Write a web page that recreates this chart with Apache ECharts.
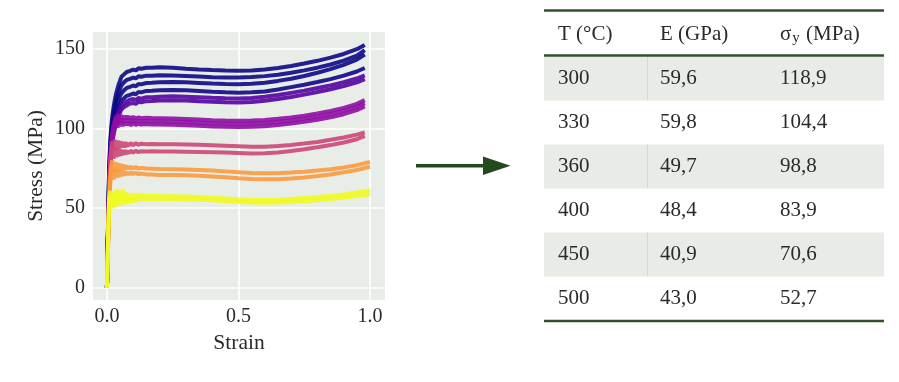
<!DOCTYPE html>
<html><head><meta charset="utf-8">
<script src="https://cdn.jsdelivr.net/npm/echarts@6/dist/echarts.min.js"></script>
<style>html,body{margin:0;padding:0;background:#fff}#c{width:899px;height:382px}</style>
</head><body><div id="c"></div>
<script>
// ---- data ----
const strain     = [0,0.004,0.008,0.012,0.016,0.02,0.025,0.03,0.035,0.04,0.045,0.05,0.055,0.06,0.065,0.07,0.075,0.08,0.085,0.09,0.1,0.11,0.12,0.13,0.15,0.17,0.2,0.25,0.3,0.35,0.4,0.45,0.5,0.55,0.6,0.65,0.7,0.75,0.8,0.85,0.9,0.95,0.98];
const strainLong = [0,0.004,0.008,0.012,0.016,0.02,0.025,0.03,0.035,0.04,0.045,0.05,0.055,0.06,0.065,0.07,0.075,0.08,0.085,0.09,0.1,0.11,0.12,0.13,0.15,0.17,0.2,0.25,0.3,0.35,0.4,0.45,0.5,0.55,0.6,0.65,0.7,0.75,0.8,0.85,0.9,0.95,1.0];

const s300a = [0,38,72,90,100,107,113,118,122,125,128,130,132.5,131.5,134,133,135.5,134.5,136,135.5,137,136.5,137.8,137.5,138.2,138.2,138.4, 138.2,137.6,137.1,136.7,136.4,136.3,136.5,137,138,139.3,140.8,142.5,144.5,146.8,149.8,152.5];
const s300b = [0,37,70,88,97,104,109,114,117.5,120.5,123,125,127,126.5,129,128,130.5,129.5,131,130.5,132,131.5,132.8,132.5,133.2,133.2,133.5, 133.3,133,132.6,132.2,132,132,132.3,132.9,133.8,135,136.5,138.2,140.2,142.6,145.8,149.2];
const s300c = [0,36,68,85,94,100,105,109,113,116,118.5,120.5,122,121.5,124,123,125.5,124.5,126,125.5,127,126.5,128,127.7,128.6,128.7,129, 129.2,129,128.6,128.2,127.9,127.8,128.1,128.8,129.9,131.3,133,135,137.3,140,143.3,146.5];
const s300d = [0,35,66,82,91,97,102,105.5,109,111.5,114,115.5,117.5,117,119,118.5,120.5,119.5,121,120.5,122,121.5,123,122.7,123.6,123.7,124, 124.2,124,123.6,123.1,122.7,122.5,122.7,123.3,124.5,126,127.5,129.2,131,133.2,135.8,138];
const s330a = [0,34,63,79,88,94,99,103,106,109,111,112.5,114.5,113.5,116,115,117,116,118,117,118.5,118,119.2,118.8,119.6,119.7,120, 120.2,120,119.7,119.3,119,118.9,119.2,119.9,121,122.4,123.8,125.4,127.1,129.1,131.4,133.4];
const s330b = [0,33,61,76,85,91,96,100,103,106,108,110,112,111,113.5,112.5,114.5,113.5,115.5,114.5,116,115.5,116.8,116.4,117.2,117.3,117.6, 117.8,117.6,117.2,116.8,116.5,116.4,116.7,117.4,118.5,119.8,121.3,122.9,124.7,126.7,129,131];
const s360a = [0,33,62,80,90,97,102,105,108,104.5,109,105.5,108.5,105.5,108,106,108,106,107.5,106,107.3,106.3,107,106.5,106.8,106.6,106.5, 106.3,106,105.6,105.2,105,104.9,105,105.4,106.1,107,108.1,109.5,111,113,115.5,117.8];
const s360b = [0,32,60,77,87,94,99,103,106,102.5,107,103.5,106.5,103.5,106,104,106,104,105.5,104,105.3,104.3,105,104.5,104.8,104.6,104.5, 104.3,104.1,103.7,103.3,103.1,103,103.1,103.5,104.2,105.1,106.2,107.6,109.1,111.1,113.6,115.9];
const s360c = [0,31,58,75,85,92,97,101,104,100.5,105,101.5,104.5,101.5,104,102,104,102,103.5,102,103.3,102.3,103,102.5,102.8,102.6,102.5, 102.3,102.1,101.7,101.3,101.1,101,101.1,101.5,102.2,103.1,104.2,105.5,107,109,111.5,113.8];
const s400a = [0,30,58,78,87,92,86,93,87,92.5,87.5,92,88,91.5,88,91.5,88.5,91,89,91,89.5,90.8,89.8,90.5,90.2,90.3,90.2, 90.1,90,89.8,89.5,89.2,88.9,88.6,88.6,89,89.7,90.6,91.6,92.9,94.4,96.2,97.6];
const s400b = [0,28,55,74,82,88,81,88,82,87.5,82.5,87,83,86.5,83.5,86.5,84,86,84.5,86,85,86,85.2,85.8,85.6,85.7,85.6, 85.5,85.4,85.3,85.1,84.9,84.7,84.4,84.5,85,85.9,87,88.2,89.6,91.2,93.3,95.4];
const s450a = [0,26,50,68,76,80,72,79,73,78.5,73,78,74,77.5,74,77,74.5,76.5,74.5,76,75,75.8,74.8,75.3,74.9,74.8,74.6, 74.5,74.3,74,73.6,73.1,72.6,72.1,71.9,72,72.4,72.9,73.6,74.5,75.6,77,79];
const s450b = [0,24,47,64,72,76,68,75,69,74.5,69.5,74,70,73.5,70.5,73,71,72.5,71,72.5,71.5,72.2,71.3,71.8,71.2,71.1,70.9, 70.8,70.6,70.3,69.9,69.4,68.8,68.3,68.1,68.2,68.7,69.3,70.2,71.2,72.5,74,76];
const s500a = [0,30,56,61,54,60,52,61,53,62,54,61,53,62,55,60,54.5,59.5,55.5,59,56,59,56.5,58.5,57.5,57.8,57.6, 57.5,57.3,57,56.6,56.1,55.6,55.2,55.1,55.3,55.8,56.4,57,57.7,58.6,59.8,61.3];
const s500b = [0,28,53,58,51,57,50,58,51,59,52,58,51.5,59,53,57.5,52.5,57,53.5,56.5,54,56.5,54.5,56.3,55.6,55.9,55.8, 55.7,55.6,55.3,54.9,54.4,53.9,53.5,53.4,53.5,53.9,54.4,55,55.7,56.6,57.6,58.8];

const xTicks = [0, 0.5, 1.0];
const yTicks = [0, 50, 100, 150];

const tableHeaderT = 'T (°C)';
const tableHeaderE = 'E (GPa)';
const tableT  = ['300', '330', '360', '400', '450', '500'];
const tableE  = ['59,6', '59,8', '49,7', '48,4', '40,9', '43,0'];
const tableSy = ['118,9', '104,4', '98,8', '83,9', '70,6', '52,7'];

// ---- styling ----
const FONT = 'Liberation Serif';
const TXT = '#2a2a2a';
const curves = [
  [s300a, strain, '#0d0887'], [s300b, strain, '#0d0887'], [s300c, strain, '#0d0887'], [s300d, strain, '#0d0887'],
  [s330a, strain, '#5402a3'], [s330b, strain, '#5402a3'],
  [s360a, strain, '#8f0da4'], [s360b, strain, '#8f0da4'], [s360c, strain, '#8f0da4'],
  [s400a, strain, '#cc4778'], [s400b, strain, '#cc4778'],
  [s450a, strainLong, '#fa9a3e'], [s450b, strainLong, '#fa9a3e'],
  [s500a, strainLong, '#f0f921'], [s500b, strainLong, '#f0f921']
];
const series = curves.map((c, i) => ({
  type: 'line', showSymbol: false, silent: true, animation: false,
  data: c[0].map((v, k) => [c[1][k], v]),
  lineStyle: { color: c[2], width: 4, opacity: 0.9 },
  z: 2 + i
}));

// ---- table + arrow as graphic elements ----
const RULE = '#32502b';
const tL = 544, tR = 884, rowTop = 56.5, rowH = 44;
const colX = [558, 660, 780];
const g = [];
for (let r = 0; r < 6; r++) {
  if (r % 2 === 0) {
    g.push({ type: 'rect', shape: { x: tL, y: rowTop + r * rowH, width: tR - tL, height: rowH }, style: { fill: '#e8ebe6' }, silent: true });
    g.push({ type: 'line', shape: { x1: 647.5, y1: rowTop + r * rowH, x2: 647.5, y2: rowTop + (r + 1) * rowH }, style: { stroke: '#d6d9d3', lineWidth: 1 }, silent: true });
  }
  const cy = rowTop + r * rowH + 21.5;
  [tableT[r], tableE[r], tableSy[r]].forEach((t, j) => {
    g.push({ type: 'text', x: colX[j], y: cy, style: { text: t, font: '21px "' + FONT + '"', fill: TXT, verticalAlign: 'middle', align: 'left' }, silent: true });
  });
}
const headY = 34;
g.push({ type: 'text', x: colX[0], y: headY, style: { text: tableHeaderT, font: '21px "' + FONT + '"', fill: TXT, verticalAlign: 'middle' }, silent: true });
g.push({ type: 'text', x: colX[1], y: headY, style: { text: tableHeaderE, font: '21px "' + FONT + '"', fill: TXT, verticalAlign: 'middle' }, silent: true });
g.push({ type: 'text', x: colX[2], y: headY, style: {
  text: '{m|σ}{s|y}{m| (MPa)}', verticalAlign: 'middle', fill: TXT,
  rich: {
    m: { fontFamily: FONT, fontSize: 21, lineHeight: 24, fill: TXT },
    s: { fontFamily: FONT, fontSize: 15, lineHeight: 15, fill: TXT, verticalAlign: 'bottom', padding: [0, 1, 0, 1] }
  } }, silent: true });
[10.5, 55.5, 321].forEach(y => g.push({ type: 'line', shape: { x1: tL, y1: y, x2: tR, y2: y }, style: { stroke: RULE, lineWidth: 2.5 }, silent: true }));
// arrow
g.push({ type: 'line', shape: { x1: 416, y1: 165.7, x2: 488, y2: 165.7 }, style: { stroke: '#234a1c', lineWidth: 3.4 }, silent: true });
g.push({ type: 'polygon', shape: { points: [[483, 156.5], [510.5, 165.7], [483, 175]] }, style: { fill: '#234a1c' }, silent: true });

const axisFont = { fontFamily: FONT, fontSize: 20, color: TXT };
const option = {
  backgroundColor: '#ffffff',
  animation: false,
  grid: { left: 93, top: 32, width: 292, height: 268, show: true, backgroundColor: '#e9ede8', borderWidth: 0, containLabel: false, outerBoundsMode: 'none' },
  xAxis: {
    type: 'value', min: -0.053, max: 1.057,
    axisLine: { show: false, onZero: false },
    axisTick: { show: false, customValues: xTicks },
    axisLabel: Object.assign({ customValues: xTicks, margin: 7, formatter: v => Number(v).toFixed(1) }, axisFont),
    splitLine: { show: true, lineStyle: { color: '#ffffff', width: 1.6 } },
    name: 'Strain', nameLocation: 'middle', nameGap: 30,
    nameTextStyle: { fontFamily: FONT, fontSize: 21.5, color: TXT }
  },
  yAxis: {
    type: 'value', min: -7.65, max: 160.6,
    axisLine: { show: false, onZero: false },
    axisTick: { show: false, customValues: yTicks },
    axisLabel: Object.assign({ customValues: yTicks, margin: 8, formatter: v => String(Math.round(v)) }, axisFont),
    splitLine: { show: true, lineStyle: { color: '#ffffff', width: 1.6 } },
    name: 'Stress (MPa)', nameLocation: 'middle', nameGap: 46,
    nameTextStyle: { fontFamily: FONT, fontSize: 21.5, color: TXT }
  },
  series: series,
  graphic: { elements: g }
};
const chart = echarts.init(document.getElementById('c'), null, { renderer: 'canvas' });
chart.setOption(option);
</script>
</body></html>
